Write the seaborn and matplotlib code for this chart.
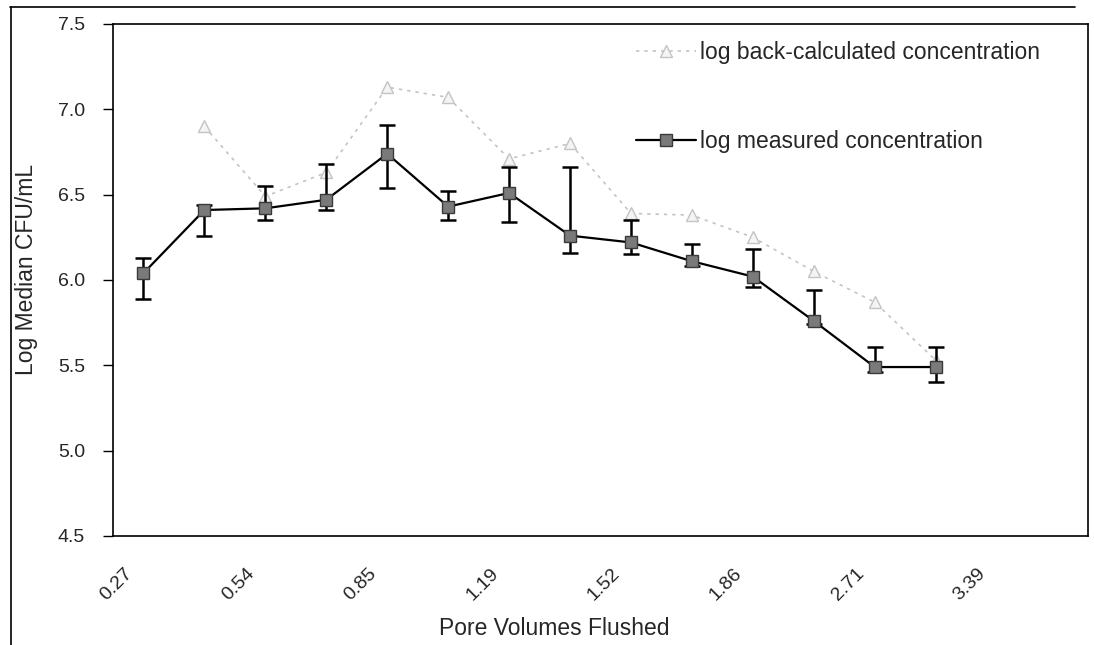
import numpy as np
import pandas as pd
import matplotlib
matplotlib.use("Agg")
import matplotlib.pyplot as plt
import seaborn as sns
from matplotlib.lines import Line2D
from matplotlib.transforms import ScaledTranslation

# ---- data ----
n_categories = 16
tick_positions = [0, 2, 4, 6, 8, 10, 12, 14]
tick_labels = ["0.27", "0.54", "0.85", "1.19", "1.52", "1.86", "2.71", "3.39"]

measured_pos = list(range(14))
measured = [6.04, 6.41, 6.42, 6.47, 6.74, 6.43, 6.51, 6.26, 6.22, 6.11, 6.02, 5.76, 5.49, 5.49]
measured_upper = [6.13, 6.44, 6.55, 6.68, 6.91, 6.52, 6.66, 6.66, 6.35, 6.21, 6.18, 5.94, 5.61, 5.61]
measured_lower = [5.89, 6.26, 6.35, 6.41, 6.54, 6.35, 6.34, 6.16, 6.15, 6.08, 5.96, 5.74, 5.46, 5.40]

back_pos = list(range(1, 14))
back_calc = [6.90, 6.49, 6.63, 7.13, 7.07, 6.71, 6.80, 6.39, 6.38, 6.25, 6.05, 5.87, 5.53]

y_ticks = [4.5, 5.0, 5.5, 6.0, 6.5, 7.0, 7.5]

# ---- style ----
sns.set_theme(style="white")
plt.rcParams["font.family"] = ["Liberation Sans", "DejaVu Sans"]

fig = plt.figure(figsize=(10.94, 6.45), dpi=100)
ax = fig.add_axes([113 / 1094, 109 / 645, 975 / 1094, 512 / 645])

df_m = pd.DataFrame({"pos": measured_pos, "val": measured})
df_b = pd.DataFrame({"pos": back_pos, "val": back_calc})

back_color = "#c4c4c4"
sns.lineplot(data=df_b, x="pos", y="val", ax=ax, color=back_color, lw=1.2,
             linestyle=(0, (2, 3)), marker="^", markersize=8,
             markerfacecolor="#f4f4f4", markeredgecolor=back_color,
             markeredgewidth=1.0, zorder=2)

err_low = np.array(measured) - np.array(measured_lower)
err_up = np.array(measured_upper) - np.array(measured)
ax.errorbar(measured_pos, measured, yerr=[err_low, err_up], fmt="none",
            ecolor="black", elinewidth=1.8, capsize=6, capthick=1.8, zorder=3)

sns.lineplot(data=df_m, x="pos", y="val", ax=ax, color="black", lw=1.6,
             marker="s", markersize=9, markerfacecolor="#7a7a7a",
             markeredgecolor="#3a3a3a", markeredgewidth=1.0, zorder=4)

ax.set_xlim(-0.5, n_categories - 0.5)
ax.set_ylim(4.5, 7.5)
ax.set_yticks(y_ticks)
ax.set_yticklabels([f"{v:.1f}" for v in y_ticks], fontsize=14)
ax.set_xticks(tick_positions)
ax.set_xticklabels(tick_labels, fontsize=14, rotation=45, ha="right",
                   rotation_mode="anchor")
ax.tick_params(axis="y", direction="out", length=7, width=1, color="black",
               pad=13, left=True)
ax.tick_params(axis="x", length=0, pad=12)
offset = ScaledTranslation(-14 / 72, -9 / 72, fig.dpi_scale_trans)
for lbl in ax.get_xticklabels():
    lbl.set_transform(lbl.get_transform() + offset)

for s in ax.spines.values():
    s.set_visible(True)
    s.set_color("black")
    s.set_linewidth(1.2)

ax.set_xlabel("Pore Volumes Flushed", fontsize=16.5)
ax.set_ylabel("Log Median CFU/mL", fontsize=16.5)
ax.xaxis.set_label_coords(0.453, -0.158)
ax.yaxis.set_label_coords(-0.077, 0.52)

handles = [
    Line2D([], [], color=back_color, lw=1.2, linestyle=(0, (2, 3)), marker="^",
           markersize=8, markerfacecolor="#f4f4f4", markeredgecolor=back_color),
    Line2D([], [], color="black", lw=1.6, marker="s", markersize=9,
           markerfacecolor="#7a7a7a", markeredgecolor="#3a3a3a"),
]
ax.legend(handles, ["log back-calculated concentration", "log measured concentration"],
          loc="upper left", bbox_to_anchor=(0.527, 0.985), frameon=False,
          fontsize=16.5, labelspacing=2.9, handlelength=2.6, handletextpad=0.2,
          borderaxespad=0)

# outer figure frame (top and left edges)
fig.add_artist(Line2D([10 / 1094, 1075 / 1094], [1 - 7 / 645, 1 - 7 / 645],
                      transform=fig.transFigure, color="black", lw=1.2))
fig.add_artist(Line2D([11 / 1094, 11 / 1094], [0, 1 - 7 / 645],
                      transform=fig.transFigure, color="black", lw=1.2))

fig.savefig("out.png", dpi=100)
